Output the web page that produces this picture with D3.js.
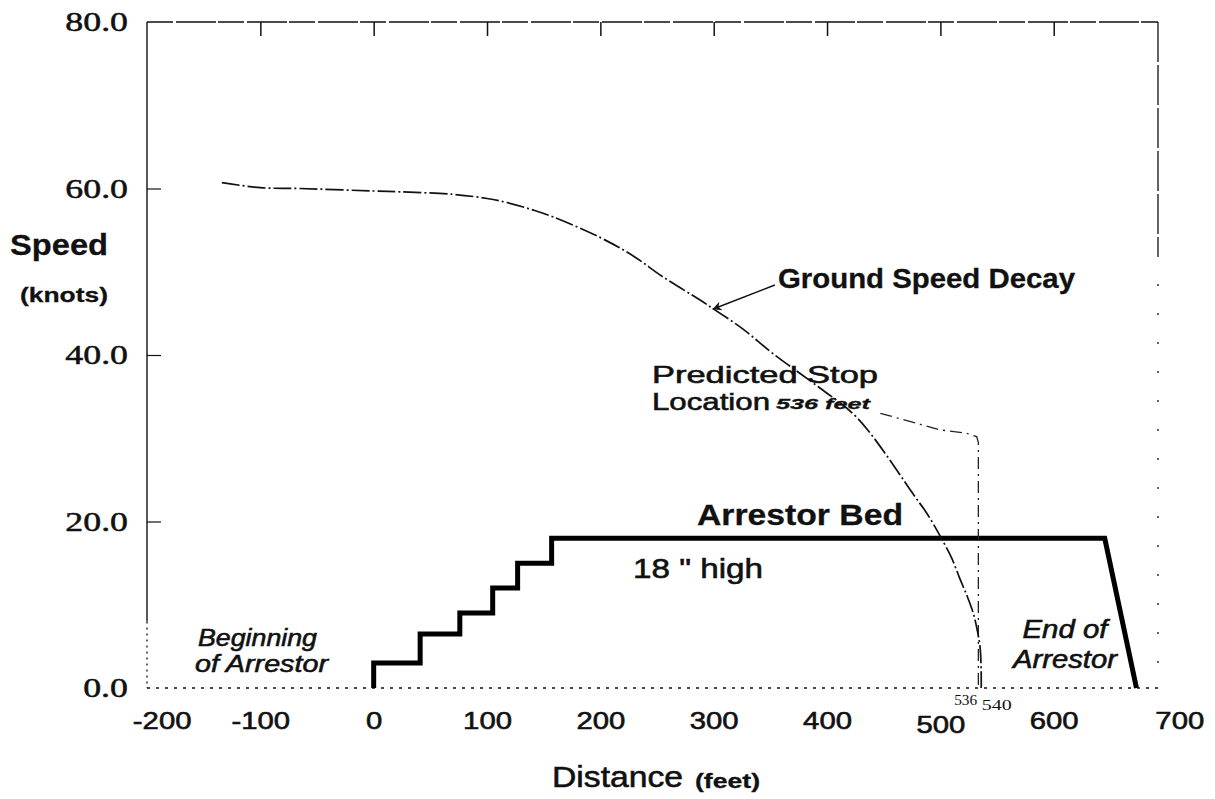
<!DOCTYPE html>
<html>
<head>
<meta charset="utf-8">
<script src="https://cdn.jsdelivr.net/npm/d3@7"></script>
<style>
  body { margin: 0; background: #fff; }
  svg { display: block; }
</style>
</head>
<body>
<svg id="chart" width="1215" height="799"></svg>
<script>
(function () {

  'use strict';

  // Axis ticks
  var xTicks = [-200, -100, 0, 100, 200, 300, 400, 500, 600, 700];
  var xTopTicks = [-100, 0, 100, 200, 300, 400, 500, 600];
  var yTicks = [0, 20, 40, 60, 80];

  // Ground speed decay: distance (feet) and speed (knots)
  var decayDist = [-134, -100, -65, 0, 23, 70, 100, 118, 141, 158, 200, 229, 255, 288,
    299, 325, 352, 394, 427, 478, 488, 498, 504, 510, 517, 524, 529, 532, 535, 536, 536];
  var decaySpeed = [60.7, 60.1, 60.0, 59.7, 59.6, 59.3, 58.8, 58.3, 57.4, 56.6, 54.1, 51.9, 49.4, 46.6,
    45.6, 43.2, 40.2, 36.0, 32.4, 22.9, 21.0, 18.7, 17.2, 15.6, 13.2, 10.9, 9.0, 7.3, 4.9, 1.8, 0];

  // Predicted stop trace
  var stopDist = [447, 500, 523, 532, 533.5, 533.5];
  var stopSpeed = [33.0, 31.0, 30.6, 30.2, 29.5, 0];

  // Arrestor bed profile (height in inches, read on the speed scale)
  var bedDist = [0, 0, 41, 41, 76, 76, 105, 105, 127, 127, 157, 157, 645, 673];
  var bedHeight = [0, 3, 3, 6.5, 6.5, 9, 9, 12, 12, 15, 15, 18, 18, 0];

  // Stop distance marks under the axis
  var stopMarks = [536, 540];

  // Arrow of the "Ground Speed Decay" label (feet, knots)
  var arrowFrom = [354, 48.4];
  var arrowTo = [299, 45.5];

  var sans = 'Liberation Sans, Arial, Helvetica, sans-serif';
  var serif = 'Liberation Serif, Times New Roman, serif';

  var svg = d3.select('#chart');

  var x = d3.scaleLinear().domain([-200, 692]).range([147, 1158]);
  var y = d3.scaleLinear().domain([0, 80]).range([688, 22]);

  function pairs(xs, ys) {
    return xs.map(function (v, i) { return [v, ys[i]]; });
  }

  var line = d3.line()
    .x(function (d) { return x(d[0]); })
    .y(function (d) { return y(d[1]); });

  var smooth = d3.line()
    .curve(d3.curveCatmullRom.alpha(0.5))
    .x(function (d) { return x(d[0]); })
    .y(function (d) { return y(d[1]); });

  function note(str, px, py, o) {
    var t = svg.append('text')
        .attr('x', px)
        .attr('y', py)
        .attr('font-family', o.family || sans)
        .attr('font-size', o.size)
        .attr('font-weight', o.weight || 'normal')
        .attr('font-style', o.style || 'normal')
        .attr('text-anchor', o.anchor || 'start')
        .attr('fill', '#111')
        .attr('stroke', '#111')
        .attr('stroke-width', o.weight === 'bold' ? 0.3 : 0.6)
        .text(str);
    if (o.w) {
      t.attr('textLength', o.w).attr('lengthAdjust', 'spacingAndGlyphs');
    }
    return t;
  }

  // Frame
  var frame = svg.append('g')
      .attr('stroke', '#111')
      .attr('fill', 'none');

  frame.append('line')
      .attr('x1', x(-200)).attr('x2', x(692))
      .attr('y1', y(80)).attr('y2', y(80))
      .attr('stroke-width', 1.6)
      .attr('stroke-dasharray', '26,3,40,2');

  frame.append('line')
      .attr('x1', x(-200)).attr('x2', x(-200))
      .attr('y1', y(80)).attr('y2', y(8))
      .attr('stroke-width', 1.4);

  frame.append('line')
      .attr('x1', x(-200)).attr('x2', x(-200))
      .attr('y1', y(8)).attr('y2', y(0))
      .attr('stroke-width', 1.3)
      .attr('stroke-dasharray', '2,4');

  frame.append('line')
      .attr('x1', x(692)).attr('x2', x(692))
      .attr('y1', y(80)).attr('y2', y(52))
      .attr('stroke-width', 1.3)
      .attr('stroke-dasharray', '40,3');

  frame.append('line')
      .attr('x1', x(692)).attr('x2', x(692))
      .attr('y1', y(52)).attr('y2', y(0))
      .attr('stroke-width', 1.3)
      .attr('stroke-dasharray', '2,27');

  frame.append('line')
      .attr('x1', x(-200)).attr('x2', x(692))
      .attr('y1', y(0)).attr('y2', y(0))
      .attr('stroke-width', 1.4)
      .attr('stroke-dasharray', '3,6');

  // Top ticks, pointing inward
  svg.append('g')
      .attr('transform', 'translate(0,' + y(80) + ')')
      .call(d3.axisTop(x).tickValues(xTopTicks).tickSize(-14).tickFormat(''))
      .call(function (g) { g.select('.domain').remove(); })
      .selectAll('line')
        .attr('stroke', '#111')
        .attr('stroke-width', 1.5);

  // Left axis
  var yAxis = svg.append('g')
      .attr('transform', 'translate(' + x(-200) + ',0)')
      .call(d3.axisLeft(y).tickValues(yTicks).tickSize(-14).tickPadding(19)
        .tickFormat(function (d) { return d.toFixed(1); }));

  yAxis.select('.domain').remove();
  yAxis.selectAll('.tick line')
      .attr('stroke', '#111')
      .attr('stroke-width', 1.2)
      .attr('opacity', function (d) { return d === 0 || d === 80 ? 0 : 1; });
  yAxis.selectAll('.tick text')
      .attr('x', 0)
      .attr('transform', 'translate(-19,0) scale(1.28,1)')
      .attr('font-family', serif)
      .attr('font-size', 28)
      .attr('fill', '#111')
      .attr('stroke', '#111')
      .attr('stroke-width', 0.5);

  // Bottom axis labels
  var xAxis = svg.append('g')
      .attr('transform', 'translate(0,' + y(0) + ')')
      .call(d3.axisBottom(x).tickValues(xTicks).tickSize(0).tickPadding(24)
        .tickFormat(function (d) { return String(d); }));

  xAxis.select('.domain').remove();
  xAxis.selectAll('.tick text')
      .attr('transform', 'scale(1.22,1)')
      .attr('dx', function (d) { return d === -200 ? 12 : d === 700 ? 10 : 0; })
      .attr('dy', function (d) { return d === 500 ? '0.86em' : '0.71em'; })
      .attr('font-family', sans)
      .attr('font-size', 24)
      .attr('fill', '#111')
      .attr('stroke', '#111')
      .attr('stroke-width', 0.6);

  // Stop distance marks
  svg.append('g')
    .selectAll('text')
      .data(stopMarks)
      .enter()
    .append('text')
      .attr('x', function (d) { return x(d) - 4; })
      .attr('y', function (d, i) { return i === 0 ? 705 : 710; })
      .attr('text-anchor', function (d, i) { return i === 0 ? 'end' : 'start'; })
      .attr('font-family', serif)
      .attr('font-size', 15)
      .attr('fill', '#111')
      .attr('textLength', function (d, i) { return i === 0 ? 23 : 30; })
      .attr('lengthAdjust', 'spacingAndGlyphs')
      .text(function (d) { return d; });

  // Arrestor bed
  svg.append('path')
      .datum(pairs(bedDist, bedHeight))
      .attr('d', line)
      .attr('fill', 'none')
      .attr('stroke', '#000')
      .attr('stroke-width', 5)
      .attr('stroke-linejoin', 'miter');

  // Predicted stop trace
  svg.append('path')
      .datum(pairs(stopDist, stopSpeed))
      .attr('d', line)
      .attr('fill', 'none')
      .attr('stroke', '#222')
      .attr('stroke-width', 1.3)
      .attr('stroke-dasharray', '12,5,2,5');

  // Ground speed decay
  svg.append('path')
      .datum(pairs(decayDist, decaySpeed))
      .attr('d', smooth)
      .attr('fill', 'none')
      .attr('stroke', '#111')
      .attr('stroke-width', 1.7)
      .attr('stroke-dasharray', '18,3,2,3');

  // Arrow to the curve
  svg.append('defs')
    .append('marker')
      .attr('id', 'head')
      .attr('viewBox', '0 0 10 10')
      .attr('refX', 10)
      .attr('refY', 5)
      .attr('markerWidth', 14)
      .attr('markerHeight', 9)
      .attr('markerUnits', 'userSpaceOnUse')
      .attr('orient', 'auto')
    .append('path')
      .attr('d', 'M0,0 L10,5 L0,10 L3,5 Z')
      .attr('fill', '#111');

  svg.append('line')
      .attr('x1', x(arrowFrom[0])).attr('y1', y(arrowFrom[1]))
      .attr('x2', x(arrowTo[0])).attr('y2', y(arrowTo[1]))
      .attr('stroke', '#111')
      .attr('stroke-width', 1.5)
      .attr('marker-end', 'url(#head)');

  // Axis titles
  note('Speed', 10, 255, { size: 30, weight: 'bold', w: 98 });
  note('(knots)', 20, 302, { size: 21, weight: 'bold', w: 88 });
  note('Distance', 552, 787, { size: 30, w: 131 });
  note('(feet)', 695, 788, { size: 20, weight: 'bold', w: 65 });

  // Annotations
  note('Predicted Stop', 652, 383, { size: 24, w: 226 });
  note('Location', 652, 410, { size: 24, w: 118 });
  note('536 feet', 776, 409, { size: 15, weight: 'bold', style: 'italic', w: 94 });
  note('Ground Speed Decay', 778, 288, { size: 28, weight: 'bold', w: 297 });
  note('Arrestor Bed', 697, 525, { size: 30, weight: 'bold', w: 206 });
  note('18 " high', 633, 578, { size: 28, w: 130 });
  note('Beginning', 198, 646, { size: 24, style: 'italic', w: 119 });
  note('of Arrestor', 195, 672, { size: 24, style: 'italic', w: 133 });
  note('End of', 1065, 638, { size: 25, style: 'italic', anchor: 'middle', w: 85 });
  note('Arrestor', 1065, 668, { size: 25, style: 'italic', anchor: 'middle', w: 104 });

})();
</script>
</body>
</html>
